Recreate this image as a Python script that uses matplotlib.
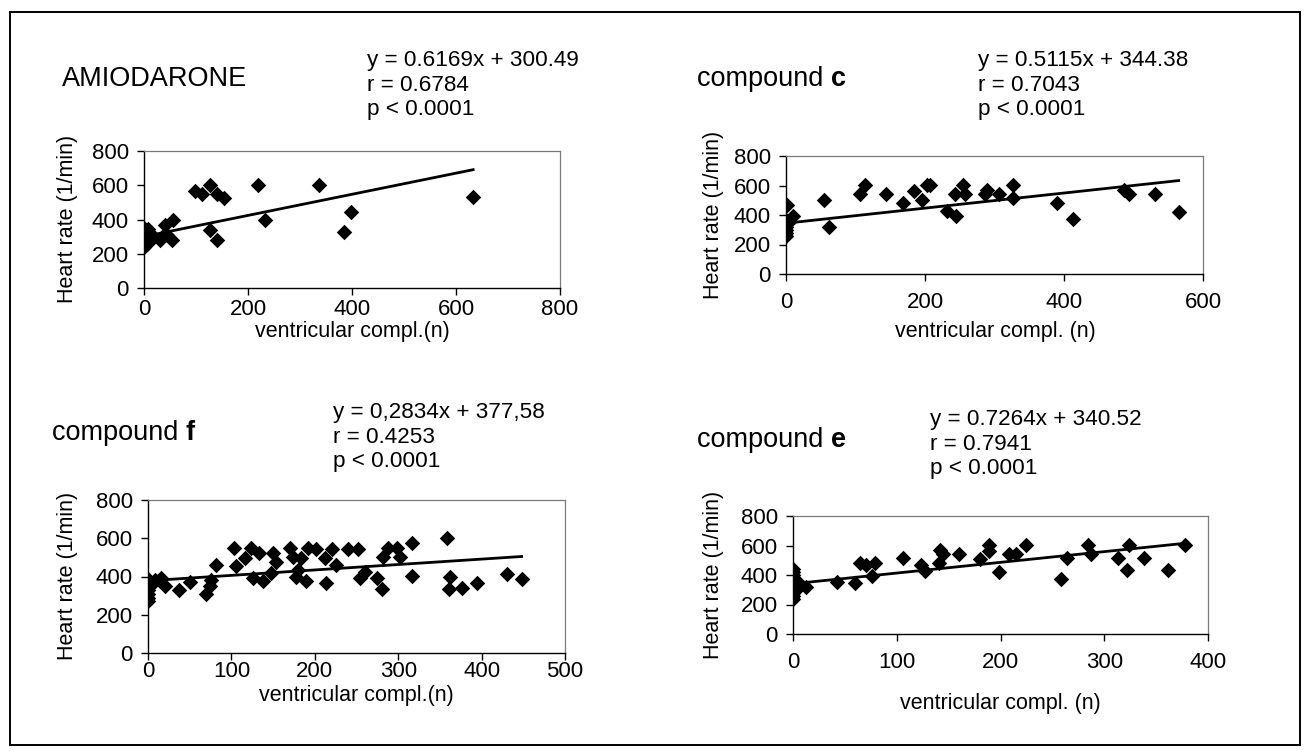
import matplotlib
matplotlib.use("Agg")
import matplotlib.pyplot as plt
from matplotlib.patches import Rectangle

plt.rcParams['font.family'] = ['Liberation Sans', 'DejaVu Sans']

W, H = 1310, 754

# ---------------- data ----------------
amio_x = [0, 0, 0, 0, 0, 0, 2, 3, 5, 8, 10, 20, 31, 35, 40, 44, 53, 56,
          98, 111, 126, 141, 154, 126, 140, 220, 233, 337, 385, 398, 633]
amio_y = [240, 265, 290, 310, 330, 350, 275, 300, 255, 345, 320, 300, 278, 300, 366, 307, 278, 399,
          566, 547, 599, 551, 525, 337, 282, 599, 399, 599, 327, 444, 531]

c_x = [0, 0, 0, 0, 0, 0, 1, 5, 10, 55, 62, 106, 114, 144, 169, 184, 195, 203, 207,
       231, 245, 243, 254, 258, 287, 289, 307, 327, 327, 390, 413, 486, 493, 531, 565]
c_y = [260, 280, 300, 320, 345, 365, 468, 350, 393, 502, 316, 542, 603, 542, 484, 565, 502, 603, 603,
       429, 393, 542, 603, 542, 542, 570, 542, 603, 513, 484, 371, 570, 542, 542, 418]

f_x = [0, 0, 0, 0, 0, 0, 0, 5, 8, 16, 20, 37, 50, 70, 74, 76, 81, 103, 106, 116, 124, 133,
       126, 138, 150, 154, 148, 170, 174, 180, 178, 189, 184, 192, 202, 214, 212, 221, 226,
       240, 252, 254, 260, 274, 280, 282, 288, 298, 302, 316, 316, 359, 362, 361, 377, 395,
       430, 448]
f_y = [270, 290, 310, 330, 350, 370, 385, 360, 380, 391, 348, 327, 369, 310, 348, 383, 461, 548,
       456, 496, 548, 522, 391, 374, 522, 478, 417, 548, 504, 435, 396, 374, 496, 548, 543, 365,
       496, 543, 461, 543, 543, 391, 426, 391, 334, 504, 548, 548, 504, 574, 403, 600, 396, 334,
       339, 365, 414, 386]

e_x = [0, 0, 0, 0, 0, 0, 0, 0, 0, 0, 0, 3, 5, 13, 42, 60, 65, 70, 76, 79, 106, 123, 127,
       141, 142, 145, 160, 180, 189, 189, 199, 208, 215, 225, 258, 264, 284, 287, 313, 322,
       324, 338, 361, 378]
e_y = [240, 260, 280, 300, 320, 340, 360, 380, 400, 420, 440, 300, 350, 316, 355, 343, 484, 468,
       393, 484, 513, 468, 429, 484, 570, 542, 542, 506, 603, 565, 423, 542, 542, 603, 371, 513,
       603, 542, 513, 434, 603, 513, 434, 603]

slopes = [0.6169, 0.5115, 0.2834, 0.7264]
intercepts = [300.49, 344.38, 377.58, 340.52]

title_main = ["AMIODARONE", "compound ", "compound ", "compound "]
title_bold = ["", "c", "f", "e"]
eq_lines = [
    ["y = 0.6169x + 300.49", "r = 0.6784", "p < 0.0001"],
    ["y = 0.5115x + 344.38", "r = 0.7043", "p < 0.0001"],
    ["y = 0,2834x + 377,58", "r = 0.4253", "p < 0.0001"],
    ["y = 0.7264x + 340.52", "r = 0.7941", "p < 0.0001"],
]
xlabels = ["ventricular compl.(n)", "ventricular compl. (n)",
           "ventricular compl.(n)", "ventricular compl. (n)"]
ylabel = "Heart rate (1/min)"
xmax = [800, 600, 500, 400]
xstep = [200, 200, 100, 100]
yticks = [0, 200, 400, 600, 800]

xs = [amio_x, c_x, f_x, e_x]
ys = [amio_y, c_y, f_y, e_y]

# ---------------- layout (pixels) ----------------
axes_px = [(144, 151, 560, 288), (786, 156, 1203, 274),
           (148, 500, 565, 653), (793, 516, 1208, 634)]
xpads = [3, 8, 0.5, 8]
title_px = [(62, 86), (697, 86), (52, 440), (697, 447)]
eq_px = [(367, [66, 91, 115]), (978, [66, 91, 115]),
         (333, [418, 443, 467]), (930, [425, 450, 474])]
xlabel_px = [(352, 332), (995, 331), (356, 696), (1000, 704)]
ylabel_px = [(67, 219), (714, 215), (68, 576), (714, 575)]


def fx(x):
    return x / W


def fy(y):
    return 1 - y / H


fig = plt.figure(figsize=(W / 100, H / 100), dpi=100)
fig.patch.set_facecolor('white')

# outer frame
fig.patches.append(Rectangle((fx(10), fy(745)), fx(1300) - fx(10), fy(12) - fy(745),
                             transform=fig.transFigure, fill=False, edgecolor='black',
                             linewidth=1.4))

renderer = fig.canvas.get_renderer()

for i in range(4):
    l, t, r, b = axes_px[i]
    ax = fig.add_axes([fx(l), fy(b), fx(r) - fx(l), fy(t) - fy(b)])
    ax.scatter(xs[i], ys[i], marker='D', s=62, color='black', zorder=3, linewidths=0)
    x0, x1 = 0, max(xs[i])
    ax.plot([x0, x1], [slopes[i] * x0 + intercepts[i], slopes[i] * x1 + intercepts[i]],
            color='black', lw=2.0, zorder=2)
    ax.set_xlim(0, xmax[i])
    ax.set_ylim(0, 800)
    ax.set_xticks(range(0, xmax[i] + 1, xstep[i]))
    ax.set_yticks(yticks)
    ax.tick_params(direction='out', length=5, width=1, labelsize=16, color='black')
    ax.tick_params(axis='x', pad=xpads[i])
    ax.tick_params(axis='y', pad=6)
    for s in ('left', 'bottom'):
        ax.spines[s].set_color('black')
        ax.spines[s].set_linewidth(1.0)
    for s in ('top', 'right'):
        ax.spines[s].set_color('#7a7a7a')
        ax.spines[s].set_linewidth(0.9)
    ax.set_xlabel(xlabels[i], fontsize=15.5)
    ax.xaxis.set_label_coords(fx(xlabel_px[i][0]), fy(xlabel_px[i][1]), transform=fig.transFigure)
    ax.xaxis.label.set_va('center')
    ax.set_ylabel(ylabel, fontsize=15.5)
    ax.yaxis.set_label_coords(fx(ylabel_px[i][0]), fy(ylabel_px[i][1]), transform=fig.transFigure)
    ax.yaxis.label.set_va('center')
    ax.yaxis.label.set_ha('center')

    # title
    tx, ty = title_px[i]
    t1 = fig.text(fx(tx), fy(ty), title_main[i], fontsize=19.5, va='baseline', ha='left')
    if title_bold[i]:
        bb = t1.get_window_extent(renderer=renderer)
        fig.text(bb.x1 / W, fy(ty), title_bold[i], fontsize=19.5, fontweight='bold',
                 va='baseline', ha='left')
    # equation
    ex, eys = eq_px[i]
    for line, by in zip(eq_lines[i], eys):
        fig.text(fx(ex), fy(by), line, fontsize=16.2, va='baseline', ha='left')

fig.savefig('out.png', dpi=100, facecolor='white')
